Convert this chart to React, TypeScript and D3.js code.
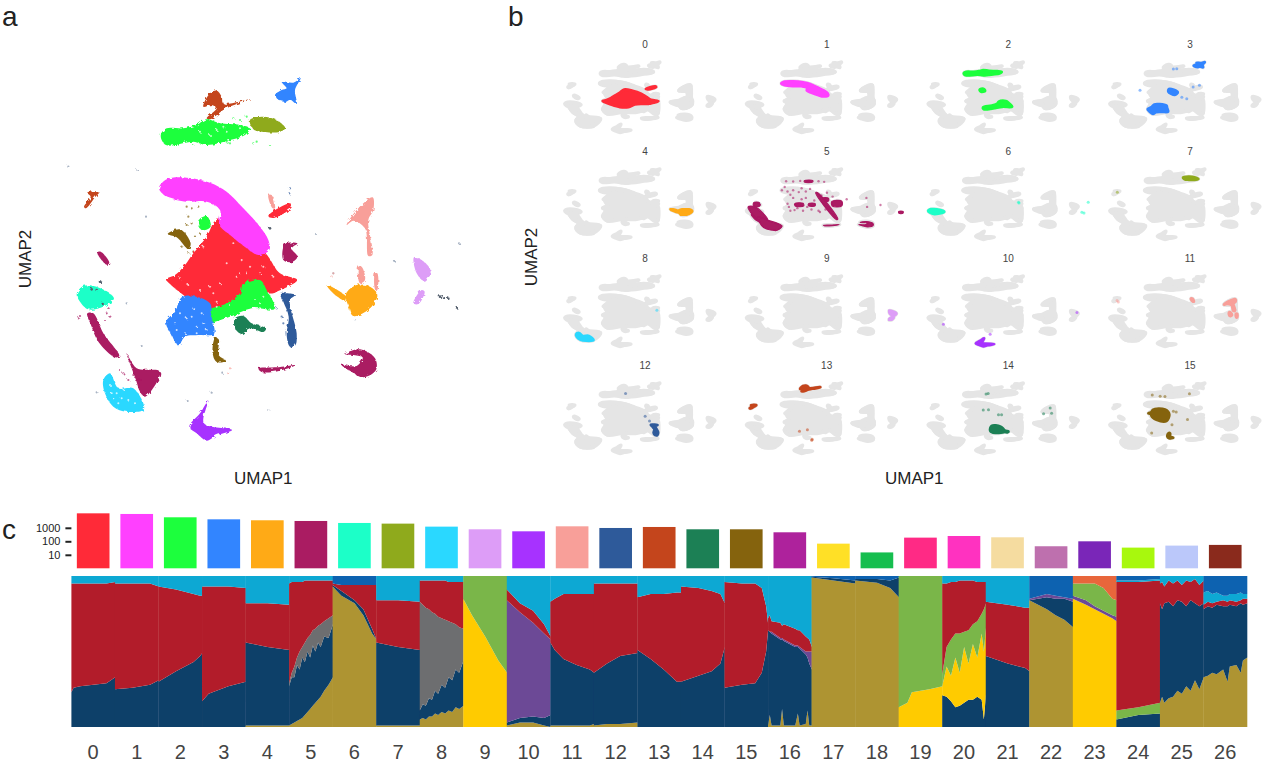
import { useEffect, useRef } from "react";
import * as d3 from "d3";

type Pt = [number, number];

const FONT = "Liberation Sans, Arial, sans-serif";

// cluster ids, sizes (log bar chart in panel c) and colours
const clusterLabels = d3.range(27).map(String);
const clusterCounts = [
  11800, 10600, 6000, 4250, 3600, 3200, 2280, 2040, 1220, 775, 550, 1290, 970, 1150, 775, 775,
  465, 67, 15, 187, 247, 198, 43, 100, 34, 48, 54,
];
const clusterColors = [
  "#ff2a37", "#ff40ff", "#1cff3c", "#3385ff", "#ffaa14", "#aa1a62", "#1cffc8", "#8faa1c", "#2bd8ff",
  "#dd9df7", "#a733ff", "#f89f99", "#2f5a9a", "#c4451c", "#1b8055", "#856410", "#ae229c", "#ffe026",
  "#14be50", "#ff2a85", "#ff33c0", "#f5dca0", "#be70ae", "#7a28b8", "#a8f80a", "#bbc8fa", "#8a2c1a",
];
const countTicks = [10, 100, 1000];

// UMAP outlines per cluster, in UMAP units
const shape0: Pt[][] = [
  [[318, 658], [345, 645], [375, 615], [400, 580], [440, 530], [470, 480], [530, 500], [590, 545], [625, 590], [660, 640], [712, 660], [680, 682], [650, 695], [640, 700], [600, 700], [545, 710], [500, 750], [440, 750], [370, 705], [330, 672]],
  [[625, 468], [690, 430], [696, 440], [640, 474]],
];
const shape1: Pt[][] = [
  [[297, 385], [320, 358], [380, 353], [450, 368], [500, 395], [550, 445], [600, 500], [625, 540], [628, 570], [595, 585], [560, 565], [510, 525], [478, 495], [480, 450], [440, 425], [380, 425], [320, 410]],
];
const shape2: Pt[][] = [
  [[303, 222], [320, 205], [370, 205], [410, 195], [440, 178], [480, 190], [540, 195], [570, 205], [555, 225], [510, 240], [440, 255], [400, 245], [320, 256], [305, 240]],
  [[440, 755], [500, 730], [540, 700], [550, 670], [600, 660], [620, 690], [644, 746], [575, 745], [510, 770], [445, 785]],
  [[415, 482], [440, 468], [452, 500], [425, 510]],
];
const shape3: Pt[][] = [
  [[645, 105], [665, 90], [680, 85], [665, 65], [700, 68], [722, 54], [705, 90], [710, 132], [690, 120], [675, 126], [650, 115]],
  [[318, 785], [345, 755], [365, 712], [400, 708], [450, 730], [455, 770], [462, 822], [420, 825], [375, 830], [355, 856], [335, 825]],
];
const shape4: Pt[][] = [
  [[858, 702], [890, 675], [930, 680], [952, 705], [930, 745], [880, 768], [866, 740]],
  [[800, 675], [815, 680], [860, 712], [855, 722], [815, 695]],
];
const shape5: Pt[][] = [
  [[112, 578], [122, 575], [148, 608], [140, 614]],
  [[675, 552], [712, 550], [695, 565], [712, 590], [695, 606], [670, 600]],
  [[82, 760], [100, 760], [130, 820], [178, 888], [165, 892], [115, 845], [95, 800]],
  [[200, 880], [230, 925], [300, 935], [255, 1010], [240, 995], [228, 960], [215, 925]],
  [[595, 925], [650, 922], [708, 915], [660, 932], [605, 936]],
  [[855, 882], [900, 868], [945, 895], [948, 930], [910, 952], [870, 932], [845, 915], [890, 918], [908, 892]],
];
const shape6: Pt[][] = [
  [[50, 702], [70, 678], [110, 680], [162, 715], [130, 740], [85, 748], [60, 725]],
];
const shape7: Pt[][] = [
  [[570, 180], [610, 170], [650, 180], [676, 205], [660, 215], [610, 216], [580, 208]],
];
const shape8: Pt[][] = [
  [[130, 960], [150, 940], [175, 985], [220, 985], [252, 1048], [200, 1055], [160, 1040], [135, 1000]],
];
const shape9: Pt[][] = [
  [[1062, 592], [1085, 600], [1112, 632], [1095, 665], [1070, 640]],
  [[1085, 690], [1094, 695], [1075, 732], [1060, 730]],
];
const shape10: Pt[][] = [
  [[388, 1100], [420, 1060], [445, 1022], [432, 1090], [516, 1110], [470, 1126], [440, 1142], [410, 1120]],
];
const shape11: Pt[][] = [
  [[860, 495], [890, 450], [938, 412], [940, 450], [925, 480], [937, 585], [925, 588], [915, 505], [880, 482]],
  [[895, 620], [905, 620], [915, 660], [900, 670]],
  [[945, 640], [952, 640], [952, 690], [946, 690]],
  [[625, 405], [635, 405], [645, 445], [638, 445]],
];
const shape12: Pt[][] = [
  [[660, 700], [680, 700], [706, 705], [690, 720], [710, 820], [706, 856], [690, 860], [680, 825], [686, 770], [670, 725]],
];
const shape13: Pt[][] = [
  [[430, 140], [450, 100], [470, 92], [485, 110], [490, 130], [572, 117], [520, 136], [490, 150], [450, 178], [440, 175], [470, 145], [455, 135]],
  [[82, 398], [118, 396], [105, 412], [78, 445], [72, 440], [92, 410]],
];
const shape14: Pt[][] = [
  [[525, 775], [550, 768], [575, 790], [618, 805], [610, 816], [570, 805], [545, 822], [525, 805]],
];
const shape15: Pt[][] = [
  [[323, 522], [360, 508], [392, 550], [385, 567], [350, 532]],
  [[465, 835], [476, 838], [476, 885], [498, 902], [470, 906], [458, 880]],
];
const umapShapes = [shape0, shape1, shape2, shape3, shape4, shape5, shape6, shape7, shape8, shape9, shape10, shape11, shape12, shape13, shape14, shape15];

// paint order in panel a
const panelADrawOrder = [5, 11, 13, 15, 0, 1, 2, 3, 14, 12, 7, 6, 8, 10, 4, 9];

// loose cells per cluster in panel a
const panelAStrays: Record<number, Pt[]> = {
  2: [[560, 170], [540, 180], [520, 175], [590, 245], [580, 250], [630, 255], [510, 250], [500, 245], [400, 255]],
  5: [[145, 745], [150, 770], [135, 780], [140, 760], [55, 775], [60, 768], [160, 880], [205, 900], [220, 945], [180, 930], [240, 960], [205, 960], [190, 940]],
  11: [[820, 640], [815, 650], [900, 640], [905, 655], [948, 650], [950, 670], [510, 925], [505, 940], [632, 420]],
  12: [[680, 735], [665, 770], [670, 790], [650, 745], [690, 385], [688, 400]],
  15: [[380, 440], [395, 445], [415, 440], [385, 470], [380, 495], [395, 490], [375, 520], [405, 530], [385, 580], [400, 575], [365, 560], [420, 520]],
};
const darkSpecks: Pt[] = [[95, 688], [110, 690], [128, 732], [120, 665], [1150, 712], [1140, 710], [1165, 716], [1190, 742], [630, 505]];

// cell outlines only seen in the small multiples of panel b
const panel5Extra: Pt[][] = [
  [[392, 590], [450, 585], [455, 625], [395, 625]],
  [[490, 590], [535, 588], [535, 625], [490, 622]],
  [[585, 505], [630, 505], [630, 550], [585, 548]],
  [[655, 555], [725, 550], [725, 625], [658, 628]],
  [[100, 575], [140, 575], [140, 630], [100, 632]],
  [[540, 420], [552, 418], [697, 830], [688, 838]],
  [[460, 232], [520, 230], [518, 252], [460, 252]],
  [[1130, 712], [1160, 712], [1160, 738], [1130, 738]],
  [[60, 640], [110, 640], [200, 850], [150, 880]],
  [[130, 800], [190, 840], [300, 935], [270, 1000], [170, 960]],
];
const panel15Extra: Pt[][] = [
  [[355, 470], [440, 465], [470, 540], [450, 640], [380, 620], [345, 560]],
];
const panel14Extra: Pt[][] = [
  [[500, 720], [560, 730], [590, 800], [525, 825], [490, 790]],
];
const panel3Extra: Pt[][] = [
  [[470, 470], [530, 520], [510, 560], [465, 510]],
];
const panelExtras: Record<number, Pt[][]> = { 3: panel3Extra, 5: panel5Extra, 14: panel14Extra, 15: panel15Extra };

// scattered cells per cluster, panel b
const strayPoints: Record<number, Pt[]> = {
  3: [[595, 621], [685, 413], [263, 491], [524, 154], [500, 160], [640, 440], [560, 600]],
  5: [[330, 240], [380, 245], [430, 235], [560, 240], [600, 250], [340, 400], [380, 380], [420, 410], [470, 400], [350, 640], [390, 690], [450, 700], [510, 680], [570, 720], [340, 590], [620, 420], [660, 480], [470, 500], [530, 540], [440, 520], [380, 500], [760, 520], [900, 500], [905, 640], [1000, 610], [320, 330], [560, 700], [610, 680], [360, 450], [440, 350], [500, 360], [410, 660], [480, 640], [360, 700], [580, 460], [300, 380]],
  6: [[690, 569], [694, 578], [1140, 725], [1155, 735], [1185, 569]],
  7: [[102, 413]],
  8: [[702, 585]],
  10: [[489, 958], [157, 802], [1105, 620]],
  11: [[109, 455], [100, 430]],
  12: [[619, 569], [650, 640], [480, 215]],
  13: [[425, 802], [481, 777], [512, 943], [515, 925]],
  14: [[460, 221], [475, 215], [477, 465], [440, 470], [548, 543], [570, 545], [915, 439], [868, 527], [925, 520]],
  15: [[406, 258], [440, 262], [614, 216], [500, 491], [520, 500], [346, 828], [600, 620], [490, 700], [350, 235]],
};

// areas that read as grey in the small multiples but are mostly hidden in panel a
const greyBackdrop: Pt[][] = [
  [[300, 385], [340, 358], [450, 370], [530, 420], [620, 500], [640, 560], [700, 600], [712, 660], [705, 860], [680, 850], [640, 790], [560, 830], [460, 830], [350, 855], [320, 780], [345, 680], [320, 658], [350, 620], [330, 520], [370, 430]],
  [[85, 745], [130, 760], [180, 890], [300, 935], [250, 1045], [160, 1040], [130, 960], [150, 900], [95, 800]],
  [[860, 495], [938, 412], [945, 600], [952, 705], [930, 745], [880, 768], [858, 715], [800, 675], [860, 650], [890, 620], [920, 585], [915, 510]],
  [[440, 178], [480, 170], [570, 180], [640, 178], [676, 205], [610, 235], [440, 255]],
];

// small faint dots around the panel a map
const faintPoints: Pt[] = [
  [25, 320], [232, 330], [258, 470], [765, 522], [1005, 605], [1197, 550], [110, 997], [383, 1023],
  [625, 1050], [487, 938], [455, 998], [245, 858], [122, 665], [200, 730], [885, 778], [820, 640],
];
const whiteSpecks: Pt[] = [
  [380, 775], [345, 790], [410, 800], [400, 745], [375, 820], [430, 790], [470, 740], [510, 735], [530, 650], [560, 640],
  [420, 690], [460, 700], [385, 675], [570, 620], [610, 620], [500, 610], [170, 1000], [190, 990], [150, 975], [205, 1020],
  [175, 1030], [490, 200], [450, 225], [540, 205], [585, 720], [610, 710], [520, 550], [545, 600], [430, 560], [360, 760],
  [395, 770], [425, 760], [350, 810], [410, 820], [440, 810], [600, 640], [640, 650], [360, 655], [450, 680], [480, 670],
  [540, 640], [470, 725], [160, 1015], [185, 1015], [225, 1030], [155, 1000], [420, 215], [470, 210], [500, 215], [600, 730],
];

// structure plot: every stop gives the top (in %) of each ancestry band at position p inside the cluster
const ancestryKeys = ["gold", "navy", "yellow", "grey", "purple", "green", "red", "sky", "deep", "orange"] as const;
type AncestryKey = (typeof ancestryKeys)[number];
const ancestryColors: Record<AncestryKey, string> = {
  gold: "#ae9430",
  navy: "#0f3f69",
  yellow: "#ffcb05",
  grey: "#6d6e70",
  purple: "#6c4a96",
  green: "#7ab648",
  red: "#b21f2b",
  sky: "#0da8d3",
  deep: "#0b62b0",
  orange: "#e8663a",
};
type Stop = { p: number } & Partial<Record<AncestryKey, number>>;

const admix0: Stop[] = [{ p: 0, navy: 23, red: 95 }, { p: 0.05, navy: 26, red: 95 }, { p: 0.2, navy: 27, red: 95 }, { p: 0.8, navy: 29, red: 95 }, { p: 1, navy: 33, red: 96 }];
const admix1: Stop[] = [{ p: 0, navy: 25, red: 95 }, { p: 0.4, navy: 26, red: 95 }, { p: 0.8, navy: 28, red: 95 }, { p: 1, navy: 31, red: 93 }];
const admix2: Stop[] = [{ p: 0, navy: 30, red: 93 }, { p: 0.4, navy: 37, red: 91 }, { p: 0.8, navy: 43, red: 88 }, { p: 0.95, navy: 47, red: 87 }, { p: 1, navy: 49, red: 87 }];
const admix3: Stop[] = [{ p: 0, navy: 17, red: 93 }, { p: 0.15, navy: 22, red: 93 }, { p: 0.6, navy: 27, red: 93 }, { p: 1, navy: 30, red: 92 }];
const admix4: Stop[] = [{ p: 0, gold: 1, navy: 56, red: 82 }, { p: 0.5, gold: 1, navy: 53, red: 82 }, { p: 1, gold: 1, navy: 51, red: 81 }];
const admix5: Stop[] = [
  { p: 0, gold: 1, navy: 27, grey: 29, red: 95 }, { p: 0.06, gold: 2, navy: 33, grey: 36, red: 96 }, { p: 0.12, gold: 3, navy: 33, grey: 40, red: 96 }, { p: 0.18, gold: 4, navy: 41, grey: 46, red: 96 },
  { p: 0.24, gold: 5, navy: 38, grey: 50, red: 96 }, { p: 0.3, gold: 6, navy: 46, grey: 53, red: 96 }, { p: 0.36, gold: 8, navy: 43, grey: 56, red: 97 }, { p: 0.42, gold: 10, navy: 50, grey: 59, red: 97 },
  { p: 0.48, gold: 12, navy: 46, grey: 61, red: 97 }, { p: 0.54, gold: 14, navy: 54, grey: 64, red: 97 }, { p: 0.6, gold: 16, navy: 50, grey: 65, red: 97 }, { p: 0.66, gold: 18, navy: 56, grey: 67, red: 97 },
  { p: 0.72, gold: 20, navy: 53, grey: 68, red: 97 }, { p: 0.8, gold: 24, navy: 60, grey: 70, red: 97 }, { p: 0.9, gold: 28, navy: 59, grey: 72, red: 97 }, { p: 1, gold: 33, navy: 68, grey: 74, red: 97 },
];
const admix6: Stop[] = [
  { p: 0, gold: 93, navy: 94, red: 95 }, { p: 0.2, gold: 87, navy: 90, red: 94 }, { p: 0.5, gold: 82, navy: 84, red: 94 },
  { p: 0.7, gold: 74, navy: 78, red: 94 }, { p: 0.9, gold: 62, navy: 65, red: 94 }, { p: 1, gold: 58, navy: 58, red: 94 },
];
const admix7: Stop[] = [{ p: 0, gold: 1, navy: 56, red: 84 }, { p: 0.5, gold: 1, navy: 53, red: 84 }, { p: 1, gold: 1, navy: 51, red: 83 }];
const admix8: Stop[] = [
  { p: 0, gold: 5, navy: 11, grey: 83, red: 97 }, { p: 0.07, gold: 6, navy: 15, grey: 81, red: 97 }, { p: 0.14, gold: 5, navy: 14, grey: 79, red: 97 }, { p: 0.21, gold: 7, navy: 19, grey: 78, red: 97 },
  { p: 0.28, gold: 7, navy: 18, grey: 76, red: 97 }, { p: 0.35, gold: 9, navy: 24, grey: 75, red: 97 }, { p: 0.42, gold: 8, navy: 22, grey: 73, red: 97 }, { p: 0.5, gold: 10, navy: 28, grey: 72, red: 97 },
  { p: 0.58, gold: 9, navy: 26, grey: 71, red: 97 }, { p: 0.66, gold: 11, navy: 33, grey: 70, red: 96 }, { p: 0.74, gold: 10, navy: 31, grey: 69, red: 96 }, { p: 0.82, gold: 13, navy: 38, grey: 68, red: 96 },
  { p: 0.9, gold: 12, navy: 36, grey: 66, red: 96 }, { p: 1, gold: 14, navy: 44, grey: 65, red: 96 },
];
const admix9: Stop[] = [{ p: 0, yellow: 85 }, { p: 0.2, yellow: 74 }, { p: 0.5, yellow: 60 }, { p: 0.8, yellow: 44 }, { p: 1, yellow: 36 }];
const admix10: Stop[] = [
  { p: 0, gold: 1, navy: 3, purple: 84, red: 91 }, { p: 0.3, gold: 3, navy: 6, purple: 76, red: 82 }, { p: 0.6, gold: 3, navy: 7, purple: 69, red: 77 },
  { p: 0.85, gold: 1, navy: 6, purple: 62, red: 68 }, { p: 1, gold: 0, navy: 8, purple: 58, red: 60 },
];
const admix11: Stop[] = [{ p: 0, gold: 1, navy: 56, red: 83 }, { p: 0.1, gold: 1, navy: 51, red: 85 }, { p: 0.3, gold: 1, navy: 45, red: 88 }, { p: 0.6, gold: 1, navy: 41, red: 88 }, { p: 0.9, gold: 1, navy: 38, red: 88 }, { p: 1, gold: 2, navy: 36, red: 88 }];
const admix12: Stop[] = [{ p: 0, gold: 1, navy: 36, red: 95 }, { p: 0.3, gold: 2, navy: 42, red: 95 }, { p: 0.6, gold: 2, navy: 47, red: 95 }, { p: 1, gold: 3, navy: 49, red: 95 }];
const admix13: Stop[] = [{ p: 0, navy: 51, red: 86 }, { p: 0.3, navy: 45, red: 88 }, { p: 0.6, navy: 38, red: 88 }, { p: 0.9, navy: 30, red: 89 }, { p: 1, navy: 30, red: 89 }];
const admix14: Stop[] = [{ p: 0, navy: 30, red: 93 }, { p: 0.4, navy: 34, red: 92 }, { p: 0.7, navy: 37, red: 90 }, { p: 0.9, navy: 42, red: 88 }, { p: 1, navy: 53, red: 82 }];
const admix15: Stop[] = [{ p: 0, navy: 26, red: 96 }, { p: 0.4, navy: 28, red: 95 }, { p: 0.7, navy: 29, red: 95 }, { p: 0.85, navy: 36, red: 92 }, { p: 0.95, navy: 50, red: 80 }, { p: 1, navy: 66, red: 67 }];
const admix16: Stop[] = [
  { p: 0, gold: 1, navy: 64, purple: 64, red: 72 }, { p: 0.04, gold: 8, navy: 63, purple: 63, red: 74 }, { p: 0.08, gold: 1, navy: 62, purple: 63, red: 70 },
  { p: 0.28, gold: 1, navy: 58, purple: 59, red: 69 }, { p: 0.32, gold: 12, navy: 58, purple: 59, red: 67 }, { p: 0.36, gold: 1, navy: 57, purple: 58, red: 68 },
  { p: 0.62, gold: 1, navy: 53, purple: 54, red: 65 }, { p: 0.68, gold: 9, navy: 53, purple: 54, red: 64 }, { p: 0.72, gold: 1, navy: 52, purple: 53, red: 64 },
  { p: 0.86, gold: 2, navy: 48, purple: 50, red: 60 }, { p: 0.9, gold: 11, navy: 46, purple: 50, red: 59 }, { p: 0.94, gold: 1, navy: 42, purple: 50, red: 58 }, { p: 1, gold: 1, navy: 38, purple: 50, red: 53 },
];
const admix17: Stop[] = [{ p: 0, gold: 99, navy: 99.5 }, { p: 0.5, gold: 97, navy: 98.5 }, { p: 1, gold: 95, navy: 97 }];
const admix18: Stop[] = [{ p: 0, gold: 97, navy: 98 }, { p: 0.5, gold: 95.5, navy: 98 }, { p: 0.8, gold: 92, navy: 97 }, { p: 1, gold: 86, navy: 99 }];
const admix19: Stop[] = [{ p: 0, yellow: 13 }, { p: 0.2, yellow: 16 }, { p: 0.3, yellow: 23 }, { p: 0.7, yellow: 25 }, { p: 1, yellow: 27 }];
const admix20: Stop[] = [
  { p: 0, navy: 21, yellow: 27, green: 35, red: 95 }, { p: 0.1, navy: 20, yellow: 40, green: 53, red: 95 }, { p: 0.2, navy: 17, yellow: 34, green: 58, red: 96 },
  { p: 0.3, navy: 13, yellow: 46, green: 62, red: 96 }, { p: 0.4, navy: 14, yellow: 36, green: 62, red: 97 }, { p: 0.5, navy: 16, yellow: 53, green: 63, red: 97 },
  { p: 0.6, navy: 18, yellow: 42, green: 64, red: 97 }, { p: 0.7, navy: 18, yellow: 55, green: 68, red: 97 }, { p: 0.8, navy: 20, yellow: 46, green: 70, red: 96 },
  { p: 0.9, navy: 18, yellow: 62, green: 75, red: 96 }, { p: 0.95, navy: 5, yellow: 50, green: 78, red: 96 }, { p: 1, navy: 22, yellow: 66, green: 82, red: 96 },
];
const admix21: Stop[] = [{ p: 0, navy: 47, red: 83 }, { p: 0.5, navy: 42, red: 81 }, { p: 0.9, navy: 39, red: 79 }, { p: 1, navy: 37, red: 79 }];
const admix22: Stop[] = [{ p: 0, gold: 84, navy: 84, purple: 85 }, { p: 0.4, gold: 78, navy: 86, purple: 88 }, { p: 0.6, gold: 74, navy: 85, purple: 87 }, { p: 0.8, gold: 71, navy: 85, purple: 86 }, { p: 1, gold: 66, navy: 83, purple: 85 }];
const admix23: Stop[] = [{ p: 0, yellow: 85, purple: 87, green: 95 }, { p: 0.3, yellow: 81, purple: 84, green: 95 }, { p: 0.5, yellow: 78, purple: 80, green: 95 }, { p: 0.7, yellow: 75, purple: 77, green: 92 }, { p: 0.9, yellow: 72, purple: 74, green: 85 }, { p: 1, yellow: 70, purple: 73, green: 84 }];
const admix24: Stop[] = [{ p: 0, navy: 5, green: 11, red: 96, sky: 97 }, { p: 0.5, navy: 8, green: 13, red: 96, sky: 97 }, { p: 1, navy: 9, green: 16, red: 97, sky: 98 }];
const admix25: Stop[] = [
  { p: 0, gold: 16, navy: 82, red: 95 }, { p: 0.05, gold: 20, navy: 78, red: 96 }, { p: 0.1, gold: 16, navy: 82, red: 93 }, { p: 0.2, gold: 19, navy: 83, red: 97 }, { p: 0.3, gold: 20, navy: 80, red: 95 },
  { p: 0.4, gold: 24, navy: 84, red: 97 }, { p: 0.5, gold: 22, navy: 83, red: 94 }, { p: 0.6, gold: 27, navy: 80, red: 97 }, { p: 0.7, gold: 24, navy: 84, red: 96 },
  { p: 0.8, gold: 31, navy: 82, red: 98 }, { p: 0.9, gold: 25, navy: 80, red: 94 }, { p: 1, gold: 33, navy: 82, red: 97 },
];
const admix26: Stop[] = [
  { p: 0, gold: 33, navy: 78, red: 81, sky: 89 }, { p: 0.1, gold: 34, navy: 80, red: 83, sky: 90 }, { p: 0.2, gold: 36, navy: 79, red: 82, sky: 88 }, { p: 0.3, gold: 35, navy: 81, red: 83, sky: 89 },
  { p: 0.45, gold: 38, navy: 80, red: 84, sky: 87 }, { p: 0.55, gold: 30, navy: 80, red: 83, sky: 87 }, { p: 0.6, gold: 40, navy: 81, red: 84, sky: 88 }, { p: 0.75, gold: 41, navy: 80, red: 83, sky: 88 },
  { p: 0.85, gold: 36, navy: 82, red: 84, sky: 89 }, { p: 0.9, gold: 44, navy: 81, red: 85, sky: 88 }, { p: 1, gold: 46, navy: 82, red: 85, sky: 88 },
];
const admixture = [admix0, admix1, admix2, admix3, admix4, admix5, admix6, admix7, admix8, admix9, admix10, admix11, admix12, admix13, admix14, admix15, admix16, admix17, admix18, admix19, admix20, admix21, admix22, admix23, admix24, admix25, admix26];
// band that fills each column up to 100%
const admixTop: AncestryKey[] = [
  "sky", "sky", "sky", "sky", "sky", "sky", "deep", "sky", "sky", "green", "sky", "sky", "sky", "sky", "sky", "sky", "sky", "deep",
  "deep", "green", "sky", "sky", "deep", "orange", "deep", "sky", "deep",
];

export default function App() {
  const svgRef = useRef<SVGSVGElement>(null);

  useEffect(() => {
    if (!svgRef.current) return;
    const svg = d3.select(svgRef.current);
    svg.selectAll("*").remove();

    const defs = svg.append("defs");
    const rough = defs.append("filter").attr("id", "rough").attr("x", "-5%").attr("y", "-5%").attr("width", "110%").attr("height", "110%");
    rough.append("feTurbulence").attr("type", "fractalNoise").attr("baseFrequency", 0.3).attr("numOctaves", 2).attr("seed", 4).attr("result", "n");
    rough.append("feDisplacementMap").attr("in", "SourceGraphic").attr("in2", "n").attr("scale", 4).attr("result", "d");
    rough.append("feGaussianBlur").attr("in", "d").attr("stdDeviation", 0.6);
    defs.append("filter").attr("id", "soft").append("feGaussianBlur").attr("stdDeviation", 0.5);
    defs.append("filter").attr("id", "softer").attr("x", "-5%").attr("y", "-5%").attr("width", "110%").attr("height", "110%").append("feGaussianBlur").attr("stdDeviation", 0.7);

    const closed = d3.line().curve(d3.curveCatmullRomClosed.alpha(0.5));

    const text = (x: number, y: number, s: string, size: number, fill = "#222") =>
      svg.append("text").attr("x", x).attr("y", y).attr("font-family", FONT).attr("font-size", size).attr("fill", fill).text(s);

    // ---- panel a
    const ax = d3.scaleLinear().domain([0, 1260]).range([60, 480]);
    const ay = d3.scaleLinear().domain([0, 1200]).range([60, 460]);
    const project = (pts: Pt[], fx: d3.ScaleLinear<number, number>, fy: d3.ScaleLinear<number, number>) =>
      closed(pts.map(([u, v]) => [fx(u), fy(v)] as Pt)) as string;

    const gA = svg.append("g").attr("filter", "url(#rough)");
    gA.selectAll("circle.faint").data(faintPoints).join("circle").attr("class", "faint")
      .attr("cx", (d) => ax(d[0])).attr("cy", (d) => ay(d[1])).attr("r", 1.1).attr("fill", "#a9b4c4");
    panelADrawOrder.forEach((c) => {
      const g = gA.append("g");
      g.selectAll("path").data(umapShapes[c]).join("path")
        .attr("d", (d) => project(d, ax, ay))
        .attr("fill", clusterColors[c]);
      g.selectAll("circle").data(panelAStrays[c] ?? []).join("circle")
        .attr("cx", (d) => ax(d[0])).attr("cy", (d) => ay(d[1])).attr("r", 1.1)
        .attr("fill", clusterColors[c]).attr("opacity", 0.7);
    });
    gA.selectAll("circle.dark").data(darkSpecks).join("circle").attr("class", "dark")
      .attr("cx", (d) => ax(d[0])).attr("cy", (d) => ay(d[1])).attr("r", 1.3).attr("fill", "#55606e");
    gA.selectAll("circle.speck").data(whiteSpecks).join("circle").attr("class", "speck")
      .attr("cx", (d) => ax(d[0])).attr("cy", (d) => ay(d[1])).attr("r", 1).attr("fill", "#fff").attr("opacity", 0.75);

    text(2, 26, "a", 28);
    text(234, 484, "UMAP1", 17);
    text(0, 0, "UMAP2", 17).attr("text-anchor", "middle").attr("transform", "translate(31,259) rotate(-90)");

    // ---- panel b
    const colLeft = d3.scaleLinear().domain([0, 3]).range([565, 1110]);
    const rowTop = d3.scaleLinear().domain([0, 3]).range([62, 383]);
    const allShapes = umapShapes.flat().concat(greyBackdrop);

    d3.range(16).forEach((c) => {
      const col = c % 4;
      const row = Math.floor(c / 4);
      const fx = d3.scaleLinear().domain([50, 1200]).range([colLeft(col), colLeft(col) + 162]);
      const fy = d3.scaleLinear().domain([50, 1140]).range([rowTop(row), rowTop(row) + 70]);
      const g = svg.append("g");

      g.append("g").attr("filter", "url(#softer)").selectAll("path").data(allShapes).join("path")
        .attr("d", (d) => project(d, fx, fy))
        .attr("fill", "#e5e5e5").attr("stroke", "#e5e5e5").attr("stroke-width", 4).attr("stroke-linejoin", "round");

      const hi = g.append("g").attr("filter", "url(#soft)");
      hi.selectAll("path").data(umapShapes[c].concat(panelExtras[c] ?? [])).join("path")
        .attr("d", (d) => project(d, fx, fy))
        .attr("fill", clusterColors[c]).attr("stroke", clusterColors[c]).attr("stroke-width", c === 5 ? 1.2 : 3).attr("stroke-linejoin", "round");
      hi.selectAll("circle").data(strayPoints[c] ?? []).join("circle")
        .attr("cx", (d) => fx(d[0])).attr("cy", (d) => fy(d[1])).attr("r", c === 5 ? 1.2 : 1.5)
        .attr("fill", clusterColors[c]).attr("opacity", 0.55);

      text(colLeft(col) + 80, rowTop(row) - 14, String(c), 10, "#444").attr("text-anchor", "middle");
    });

    text(508, 26, "b", 28);
    text(885, 484, "UMAP1", 17);
    text(0, 0, "UMAP2", 17).attr("text-anchor", "middle").attr("transform", "translate(537,257) rotate(-90)");

    // ---- panel c, bars
    text(2, 539, "c", 28);
    const xBars = d3.scaleBand<string>().domain(clusterLabels).range([71.4, 1247]).paddingInner(0.25).paddingOuter(0.125);
    const yBars = d3.scaleLog().domain([1, 10000]).range([568.3, 514.3]);

    svg.append("g").attr("filter", "url(#soft)").selectAll("rect").data(clusterCounts).join("rect")
      .attr("x", (_, i) => xBars(clusterLabels[i])!)
      .attr("width", xBars.bandwidth())
      .attr("y", (d) => yBars(d))
      .attr("height", (d) => yBars(1) - yBars(d))
      .attr("fill", (_, i) => clusterColors[i]);

    const yAxis = svg.append("g").attr("transform", "translate(71.4,0)")
      .call(d3.axisLeft(yBars).tickValues(countTicks).tickFormat((d) => String(d)).tickSize(6).tickPadding(5));
    yAxis.select(".domain").remove();
    yAxis.selectAll(".tick line").attr("stroke", "#222").attr("stroke-width", 2);
    yAxis.selectAll(".tick text").attr("font-family", FONT).attr("font-size", 11).attr("fill", "#222");

    // ---- panel c, structure plot
    const xStack = d3.scaleBand<string>().domain(clusterLabels).range([71.4, 1247]);
    const yStack = d3.scaleLinear().domain([0, 100]).range([727, 576]);
    const gStack = svg.append("g").attr("filter", "url(#soft)");

    admixture.forEach((stops, c) => {
      const left = xStack(clusterLabels[c])!;
      const xLocal = d3.scaleLinear().domain([0, 1]).range([left, left + xStack.bandwidth() + 0.3]);
      const topKey = admixTop[c];
      const topIndex = ancestryKeys.indexOf(topKey);
      const columns = stops.map((s) => {
        const tops: number[] = [];
        let last = 0;
        ancestryKeys.forEach((k, i) => {
          last = i >= topIndex ? 100 : s[k] ?? last;
          tops.push(last);
        });
        return { p: s.p, tops };
      });
      ancestryKeys.forEach((k, i) => {
        const area = d3.area<{ p: number; tops: number[] }>()
          .x((d) => xLocal(d.p))
          .y0((d) => yStack(i === 0 ? 0 : d.tops[i - 1]))
          .y1((d) => yStack(d.tops[i]));
        if (columns.every((d) => d.tops[i] === (i === 0 ? 0 : d.tops[i - 1]))) return;
        gStack.append("path").attr("d", area(columns)).attr("fill", ancestryColors[k]);
      });
    });

    const xAxis = svg.append("g").attr("transform", "translate(0,739)")
      .call(d3.axisBottom(xStack).tickSize(0).tickPadding(6));
    xAxis.select(".domain").remove();
    xAxis.selectAll(".tick text").attr("font-family", FONT).attr("font-size", 20).attr("fill", "#444");
  }, []);

  return <svg ref={svgRef} width={1280} height={773} style={{ position: "absolute", left: 0, top: 0 }} />;
}
